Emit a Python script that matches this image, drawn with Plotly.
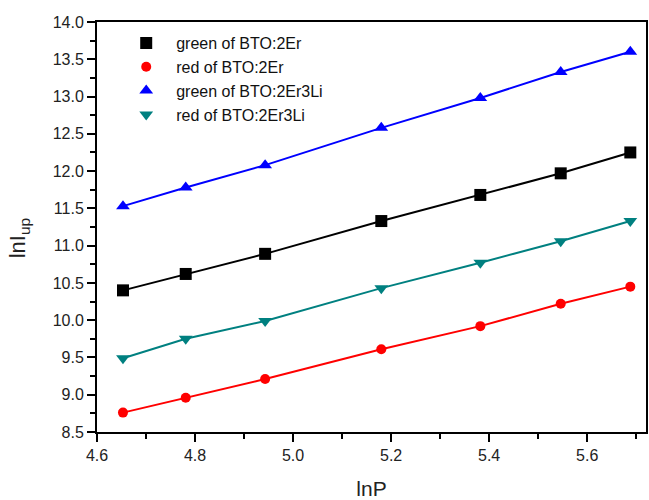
import plotly.graph_objects as go

lnP = [4.653, 4.781, 4.943, 5.180, 5.382, 5.546, 5.688]
green_BTO_2Er = [10.40, 10.62, 10.89, 11.33, 11.68, 11.97, 12.25]
red_BTO_2Er = [8.76, 8.96, 9.21, 9.61, 9.92, 10.22, 10.45]
green_BTO_2Er3Li = [11.53, 11.78, 12.08, 12.58, 12.98, 13.33, 13.60]
red_BTO_2Er3Li = [9.49, 9.75, 9.99, 10.43, 10.77, 11.06, 11.33]

series = [
    ("green of BTO:2Er", green_BTO_2Er, "black", "square", 12),
    ("red of BTO:2Er", red_BTO_2Er, "#ff0000", "circle", 10),
    ("green of BTO:2Er3Li", green_BTO_2Er3Li, "#0000ff", "triangle-up", 12),
    ("red of BTO:2Er3Li", red_BTO_2Er3Li, "#008080", "triangle-down", 12),
]

fig = go.Figure()
for name, ys, col, sym, sz in series:
    fig.add_trace(go.Scatter(x=lnP, y=ys, mode="lines", line=dict(color=col, width=2),
                             showlegend=False, hoverinfo="skip"))
for name, ys, col, sym, sz in series:
    fig.add_trace(go.Scatter(x=lnP, y=ys, mode="markers", name=name,
                             marker=dict(color=col, symbol=sym, size=sz, line=dict(width=0))))

axis_font = dict(family="Arial, Liberation Sans, sans-serif", size=16, color="#222")
fig.update_layout(
    width=649, height=500,
    margin=dict(l=97, r=1, t=22, b=68),
    paper_bgcolor="white", plot_bgcolor="white",
    font=axis_font,
    legend=dict(x=0.035, y=0.99, xanchor="left", yanchor="top",
                bgcolor="rgba(0,0,0,0)", font=dict(size=16, color="#111"),
                itemwidth=50, tracegroupgap=0),
    xaxis=dict(range=[4.6, 5.72], dtick=0.2, tick0=4.6, tickformat=".1f",
               showgrid=False, zeroline=False, showline=True, linecolor="black", linewidth=2,
               mirror=True, ticks="outside", ticklen=8, tickwidth=2, tickcolor="black",
               minor=dict(dtick=0.1, ticks="outside", ticklen=5, tickwidth=2, tickcolor="black"),
               title=dict(text="lnP", font=dict(size=21), standoff=20)),
    yaxis=dict(range=[8.5, 14.0], dtick=0.5, tick0=8.5, tickformat=".1f",
               showgrid=False, zeroline=False, showline=True, linecolor="black", linewidth=2,
               mirror=True, ticks="outside", ticklen=8, tickwidth=2, tickcolor="black",
               minor=dict(dtick=0.25, ticks="outside", ticklen=5, tickwidth=2, tickcolor="black")),
    annotations=[dict(text="lnI<sub>up</sub>", textangle=-90, xref="paper", yref="paper",
                      x=-0.1416, y=0.473, xanchor="center", yanchor="middle", showarrow=False,
                      font=dict(size=22, color="#222"))],
)
fig.write_html("out.html")
